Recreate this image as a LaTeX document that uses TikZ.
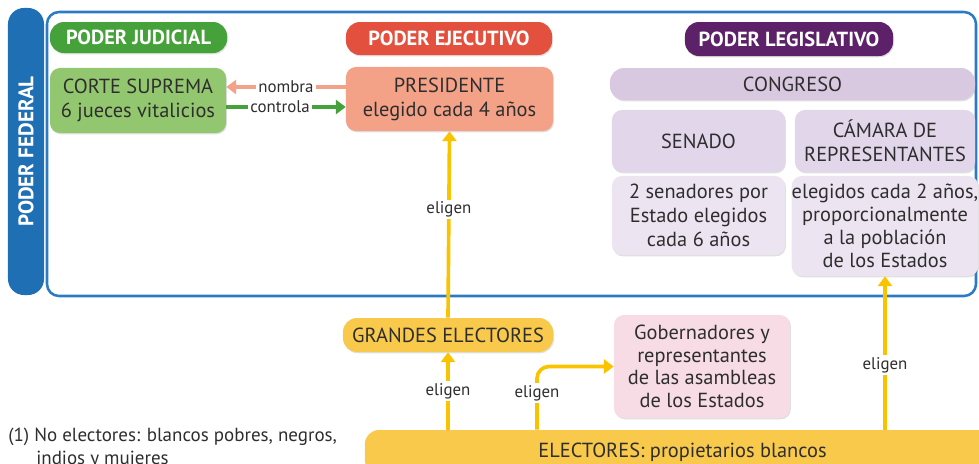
\documentclass[tikz,border=0pt]{standalone}
\usepackage{fontspec}
\setmainfont{PT Sans}
\usetikzlibrary{arrows.meta}
\usetikzlibrary{shadows}

\definecolor{fedblue}{HTML}{1F6FB5}
\definecolor{frameblue}{HTML}{2B7BC4}
\definecolor{judgreen}{HTML}{45A139}
\definecolor{lightgreen}{HTML}{93C76F}
\definecolor{ejered}{HTML}{E4503E}
\definecolor{salmon}{HTML}{F3A287}
\definecolor{legpurple}{HTML}{5D2169}
\definecolor{congpurple}{HTML}{D8C8E0}
\definecolor{campurple}{HTML}{E2D6EA}
\definecolor{descpurple}{HTML}{ECE5F1}
\definecolor{elyellow}{HTML}{F8C94A}
\definecolor{arrowyellow}{HTML}{F9C300}
\definecolor{gobpink}{HTML}{F7DCE6}
\definecolor{textgray}{HTML}{2E2E2E}

\tikzset{
    base/.style={align=center, text=textgray, inner sep=0pt,
        font=\fontsize{14.5}{17}\selectfont,
        drop shadow={shadow xshift=0.6pt, shadow yshift=-0.9pt, opacity=0.25}},
    pill/.style={base, rounded corners=0.35cm},
    card/.style={base, rounded corners=0.25cm},
    header/.style={pill, text=white, font=\fontsize{14.5}{16}\selectfont\bfseries},
    arrlabel/.style={fill=white, inner sep=1.5pt, text=textgray,
        font=\fontsize{12}{13}\selectfont},
    link/.style={line width=2.6pt, -{Triangle[length=7pt,width=10pt]}},
    elige/.style={link, draw=arrowyellow}
}

\begin{document}
\begin{tikzpicture}[x=0.025cm, y=-0.025cm]
    \useasboundingbox (0,0) rectangle (979,463);
    \clip (0,0) rectangle (979,463);

    % poder federal
    \draw[frameblue, line width=1.8pt, rounded corners=0.3cm] (47,12) rectangle (976,296);
    \node[fill=fedblue, rounded corners=0.4cm, minimum width=0.9cm, minimum height=7.175cm,
          inner sep=0pt] (federal) at (26,151.5) {};
    \node[rotate=90, text=white, font=\fontsize{15}{17}\selectfont\bfseries] (fedtext) at (federal) {PODER FEDERAL};

    % judicial
    \node[header, fill=judgreen, minimum width=4.425cm, minimum height=0.775cm] (judicial) at (138.5,37.5) {PODER JUDICIAL};
    \node[card, fill=lightgreen, minimum width=4.4cm, minimum height=1.625cm] (corte) at (138,100.5) {CORTE SUPREMA\\6 jueces vitalicios};

    % ejecutivo
    \node[header, fill=ejered, minimum width=5.15cm, minimum height=0.825cm] (ejecutivo) at (449,38.5) {PODER EJECUTIVO};
    \node[card, fill=salmon, minimum width=5.175cm, minimum height=1.6cm] (pres) at (449.5,99) {PRESIDENTE\\elegido cada 4 a\~nos};

    % legislativo
    \node[header, fill=legpurple, minimum width=5.2cm, minimum height=0.85cm] (legislativo) at (789,39) {PODER LEGISLATIVO};
    \node[pill, fill=congpurple, minimum width=9.125cm, minimum height=0.8cm] (congreso) at (792.5,84) {CONGRESO};
    \node[card, fill=campurple, minimum width=4.325cm, minimum height=1.55cm] (senado) at (698.5,141) {SENADO};
    \node[card, fill=campurple, minimum width=4.5cm, minimum height=1.55cm] (camara) at (885,141) {CÁMARA DE\\REPRESENTANTES};
    \node[card, fill=descpurple, minimum width=4.325cm, minimum height=1.975cm] (sendesc) at (698.5,215.5) {2 senadores por\\Estado elegidos\\cada 6 años};
    \node[card, fill=descpurple, minimum width=4.5cm, minimum height=2.5cm,
          font=\fontsize{14.5}{16.5}\selectfont] (camdesc) at (885,226) {elegidos cada 2 años,\\proporcionalmente\\a la población\\de los Estados};

    % electores
    \node[pill, fill=elyellow, minimum width=5.25cm, minimum height=0.85cm] (grandes) at (448,335) {GRANDES ELECTORES};
    \node[card, fill=gobpink, minimum width=4.4cm, minimum height=2.575cm,
          font=\fontsize{14.5}{16}\selectfont] (gob) at (702,366.5) {Gobernadores y\\representantes\\de las asambleas\\de los Estados};
    \node[pill, fill=elyellow, minimum width=15.875cm, minimum height=1.1cm] (electores) at (682.5,452) {ELECTORES: propietarios blancos};
    \coordinate (bend) at (537,0);

    \node[anchor=north west, align=left, text=textgray, inner sep=0pt,
          font=\fontsize{13.5}{16}\selectfont] (nota) at (8,428)
          {(1) No electores: blancos pobres, negros,\\\hspace*{0.7cm}indios y mujeres};

    % conexiones
    \draw[link, draw=salmon] ([yshift=0.3cm]pres.west) -- node[arrlabel]{nombra} ([yshift=0.3cm]pres.west -| corte.east);
    \draw[link, draw=judgreen] ([yshift=-0.2cm]pres.west -| corte.east) -- node[arrlabel, pos=0.45]{controla} ([yshift=-0.2cm]pres.west);
    \draw[elige] (grandes.north) -- node[arrlabel, pos=0.58]{eligen} (pres.south);
    \draw[elige] (electores.north -| grandes.south) -- node[arrlabel]{eligen} (grandes.south);
    \draw[elige, rounded corners=0.3cm] (bend |- electores.north) |- node[arrlabel, pos=0.29]{eligen} (gob.west);
    \draw[elige] (electores.north -| camdesc.south) -- node[arrlabel, pos=0.42]{eligen} (camdesc.south);
\end{tikzpicture}
\end{document}
